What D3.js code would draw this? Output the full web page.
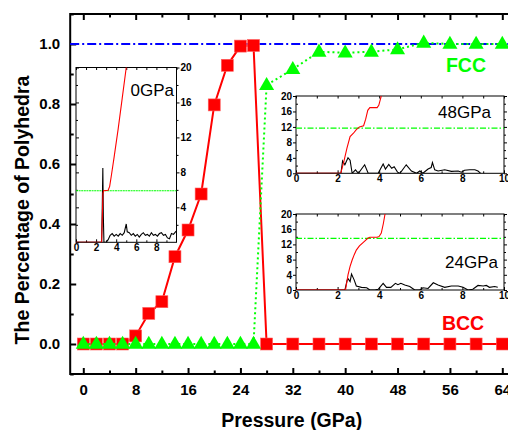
<!DOCTYPE html>
<html>
<head>
<meta charset="utf-8">
<script src="https://cdn.jsdelivr.net/npm/d3@7"></script>
<style>
  html, body { margin: 0; padding: 0; background: #fff; }
  svg { display: block; font-family: "Liberation Sans", Arial, sans-serif; }
</style>
</head>
<body>
<svg id="chart" width="508" height="430"></svg>
<script>
// Fraction of BCC / FCC polyhedra versus pressure
const pressureBCC = [0, 2, 4, 6, 8, 10, 12, 14, 16, 18, 20, 22, 24, 26, 28, 32, 36, 40, 44, 48, 52, 56, 60, 64];
const fractionBCC = [0, 0, 0, 0, 0.027, 0.102, 0.141, 0.291, 0.38, 0.5, 0.797, 0.929, 0.993, 0.995, 0, 0, 0, 0, 0, 0, 0, 0, 0, 0];
const pressureFCC = [0, 2, 4, 6, 8, 10, 12, 14, 16, 18, 20, 22, 24, 26, 28, 32, 36, 40, 44, 48, 52, 56, 60, 64];
const fractionFCC = [0, 0, 0, 0, 0, 0, 0, 0, 0, 0, 0, 0, 0, 0, 0.863, 0.916, 0.974, 0.971, 0.974, 0.982, 1.004, 1.0, 1.0, 1.0];
const referenceLevel = 1.0;
const xTicks = [0, 8, 16, 24, 32, 40, 48, 56, 64];
const yTicks = [0, 0.2, 0.4, 0.6, 0.8, 1.0];

// Inset at 0 GPa: g(r) (black), running coordination N(r) (red), coordination level (green)
const r0g = [0, 2.55, 2.6, 2.67, 2.72, 2.78, 3.0, 3.2, 3.4, 3.6, 3.8, 4.0, 4.2, 4.4, 4.6, 4.8, 5.0, 5.1, 5.3, 5.5, 5.7, 5.9, 6.1, 6.3, 6.5, 6.7, 6.9, 7.1, 7.3, 7.5, 7.7, 7.9, 8.1, 8.3, 8.5, 8.7, 8.9, 9.1, 9.3, 9.5, 9.7, 9.9, 10];
const g0 = [0, 0, 3, 8.5, 3, 0, 0, 0.3, 0.8, 1.0, 0.7, 0.9, 0.7, 1.0, 0.8, 1.1, 2.1, 1.2, 1.1, 0.8, 1.0, 0.7, 0.9, 0.6, 0.9, 1.1, 0.8, 0.9, 0.7, 1.1, 0.8, 0.9, 0.7, 1.0, 1.1, 0.8, 0.9, 0.5, 0.4, 1.0, 0.9, 1.2, 1.3];
const r0n = [0, 2.55, 2.62, 2.68, 2.75, 3.2, 3.35, 3.5, 3.8, 4.2, 4.6, 5.0];
const n0 = [0, 0, 3, 5.6, 5.9, 5.95, 6.4, 7.5, 9.8, 13, 16.5, 20];
const cn0 = 5.9;

// Inset at 48 GPa
const r48g = [0, 2.16, 2.24, 2.35, 2.5, 2.6, 2.7, 2.86, 3.0, 3.3, 3.47, 3.95, 4.19, 4.3, 4.46, 4.6, 4.72, 4.88, 5.0, 5.3, 5.55, 5.8, 5.95, 6.1, 6.35, 6.5, 6.56, 6.67, 6.83, 7.15, 7.47, 7.8, 7.95, 8.1, 8.35, 8.6, 8.75, 8.88];
const g48 = [0, 0, 3.2, 2.2, 4.0, 3.4, 0, 0.9, 0, 2.2, 0, 0, 2.4, 1.1, 2.3, 1.3, 1.7, 0.3, 0, 2.2, 0.6, 0, 0.6, 0, 1.1, 1.5, 2.8, 0.9, 0.6, 0.9, 0.5, 0.6, 0.3, 0.8, 0.9, 0.9, 0.6, 0];
const r48n = [0, 2.15, 2.3, 2.45, 2.6, 2.75, 2.9, 3.05, 3.25, 3.35, 3.45, 3.55, 3.9, 3.98, 4.05, 4.1];
const n48 = [0, 0, 3, 6.5, 9.5, 10.3, 11.3, 12, 12.3, 14, 16.3, 17, 17, 17.6, 19, 20];
const cn48 = 11.7;

// Inset at 24 GPa
const r24g = [0, 2.35, 2.46, 2.51, 2.6, 2.67, 2.8, 2.9, 3.15, 3.4, 3.55, 3.8, 3.95, 4.19, 4.35, 4.56, 4.78, 4.9, 5.04, 5.23, 5.47, 5.71, 5.95, 6.1, 6.35, 6.6, 6.83, 7.15, 7.47, 7.8, 8.03, 8.27, 8.5, 8.75, 9.0, 9.15, 9.3, 9.55, 9.7];
const g24 = [0, 0, 2.6, 2.9, 2.2, 4.2, 2.6, 1.05, 0.7, 0.6, 0, 0, 0.2, 1.75, 0.7, 0.7, 1.75, 1.4, 1.75, 1.3, 0.9, 0, 0, 0.6, 0.4, 1.9, 1.3, 0.7, 1.05, 1.05, 0.7, 0, 0.2, 1.2, 1.05, 1.2, 0.7, 0.9, 0.7];
const r24n = [0, 2.38, 2.5, 2.6, 2.7, 2.8, 2.9, 3.05, 3.25, 3.45, 3.55, 3.9, 4.0, 4.1, 4.2, 4.28];
const n24 = [0, 0, 4, 6.2, 7.9, 9.3, 10.5, 11.6, 12.6, 13.6, 13.9, 13.9, 14.1, 15, 17.5, 20];
const cn24 = 13.6;

const RED = "#ff0000", GREEN = "#00ff00", BLUE = "#0000ff";
const svg = d3.select("#chart");

// ---------- main panel ----------
const x = d3.scaleLinear().domain([-2, 66]).range([70.2, 515.4]);
const y = d3.scaleLinear().domain([-0.1, 1.1]).range([374, 14]);
const [xl, xr] = x.range();
const [yb, yt] = y.range();

const main = svg.append("g");

function tickAxis(axis) {
  return g => { g.call(axis); g.select(".domain").remove(); g.selectAll("line").attr("stroke", "#000").attr("stroke-width", 2); };
}
const boldLabels = g => g.selectAll("text").attr("font-size", 15).attr("font-weight", "bold")
  .attr("font-family", "Liberation Sans, Arial, sans-serif").attr("fill", "#000");

// major / minor ticks, all pointing into the plot
main.append("g").attr("transform", `translate(0,${yb})`)
  .call(tickAxis(d3.axisBottom(x).tickValues(xTicks).tickSizeInner(-6).tickSizeOuter(0).tickPadding(10)))
  .call(boldLabels);
main.append("g").attr("transform", `translate(0,${yb})`)
  .call(tickAxis(d3.axisBottom(x).tickValues(d3.range(4, 65, 8)).tickSizeInner(-3.5).tickSizeOuter(0).tickFormat("")));
main.append("g").attr("transform", `translate(0,${yt})`)
  .call(tickAxis(d3.axisTop(x).tickValues(xTicks).tickSizeInner(-6).tickSizeOuter(0).tickFormat("")));
main.append("g").attr("transform", `translate(0,${yt})`)
  .call(tickAxis(d3.axisTop(x).tickValues(d3.range(4, 65, 8)).tickSizeInner(-3.5).tickSizeOuter(0).tickFormat("")));
main.append("g").attr("transform", `translate(${xl},0)`)
  .call(tickAxis(d3.axisLeft(y).tickValues(yTicks).tickSizeInner(-6).tickSizeOuter(0).tickPadding(10).tickFormat(d3.format(".1f"))))
  .call(boldLabels);
main.append("g").attr("transform", `translate(${xl},0)`)
  .call(tickAxis(d3.axisLeft(y).tickValues([-0.1, 0.1, 0.3, 0.5, 0.7, 0.9, 1.1]).tickSizeInner(-3.5).tickSizeOuter(0).tickFormat("")));

main.append("rect").attr("x", xl).attr("y", yt).attr("width", xr - xl).attr("height", yb - yt)
  .attr("fill", "none").attr("stroke", "#000").attr("stroke-width", 2);

// reference level at 1.0
main.append("line").attr("x1", xl).attr("x2", xr).attr("y1", y(referenceLevel)).attr("y2", y(referenceLevel))
  .attr("stroke", BLUE).attr("stroke-width", 2).attr("stroke-dasharray", "9,3,2,3");

const lineP = d3.line().x(d => x(d[0])).y(d => y(d[1]));

// BCC series
const bcc = d3.zip(pressureBCC, fractionBCC);
main.append("path").attr("d", lineP(bcc)).attr("fill", "none").attr("stroke", RED).attr("stroke-width", 2);
main.selectAll(".sq").data(bcc).join("rect")
  .attr("x", d => x(d[0]) - 6).attr("y", d => y(d[1]) - 6).attr("width", 12).attr("height", 12)
  .attr("fill", RED).attr("stroke", "#ff6060").attr("stroke-width", 0.6);

// FCC series
const fcc = d3.zip(pressureFCC, fractionFCC);
main.append("path").attr("d", lineP(fcc)).attr("fill", "none").attr("stroke", GREEN).attr("stroke-width", 2).attr("stroke-dasharray", "2,3");
const tri = d3.symbol().type(d3.symbolTriangle).size(98);
main.selectAll(".tri").data(fcc).join("path")
  .attr("d", tri).attr("transform", d => `translate(${x(d[0])},${y(d[1]) + 0.5})`).attr("fill", GREEN);

// series labels
main.append("text").attr("x", 466).attr("y", 72).attr("text-anchor", "middle")
  .attr("font-size", 19.5).attr("font-weight", "bold").attr("fill", GREEN).text("FCC");
main.append("text").attr("x", 463).attr("y", 330).attr("text-anchor", "middle")
  .attr("font-size", 19.5).attr("font-weight", "bold").attr("fill", RED).text("BCC");

// axis titles
svg.append("text").attr("x", 291.7).attr("y", 427).attr("text-anchor", "middle")
  .attr("font-size", 19.5).attr("font-weight", "bold").text("Pressure (GPa)");
svg.append("text").attr("transform", "translate(22,210) rotate(-90)").attr("dy", "0.35em").attr("text-anchor", "middle")
  .attr("font-size", 19.5).attr("font-weight", "bold").text("The Percentage of Polyhedra");

// ---------- insets ----------
function inset(o) {
  const g = svg.append("g");
  const ix = d3.scaleLinear().domain([0, 10]).range([o.x0, o.x1]);
  const iy = d3.scaleLinear().domain([0, 20]).range([o.y1, o.y0]);
  const id = "clip" + o.name;
  g.append("clipPath").attr("id", id).append("rect")
    .attr("x", o.x0).attr("y", o.y0 - 1).attr("width", o.x1 - o.x0).attr("height", o.y1 - o.y0 + 1);
  g.append("rect").attr("x", o.x0).attr("y", o.y0).attr("width", o.x1 - o.x0).attr("height", o.y1 - o.y0).attr("fill", "#fff");

  const thin = sel => { sel.select(".domain").remove(); sel.selectAll("line").attr("stroke", "#000").attr("stroke-width", 1); };
  const lab = sel => sel.selectAll("text").attr("font-size", 10).attr("font-weight", "bold").attr("font-family", "Liberation Sans, Arial, sans-serif").attr("fill", "#000");

  // bottom
  g.append("g").attr("transform", `translate(0,${o.y1})`)
    .call(d3.axisBottom(ix).tickValues(o.xLabels).tickSizeInner(-3).tickSizeOuter(0).tickPadding(2)).call(thin).call(lab);
  g.append("g").attr("transform", `translate(0,${o.y1})`)
    .call(d3.axisBottom(ix).tickValues(d3.range(1, 10, 2)).tickSizeInner(-2).tickSizeOuter(0).tickFormat("")).call(thin);
  // top
  g.append("g").attr("transform", `translate(0,${o.y0})`)
    .call(d3.axisTop(ix).tickValues(d3.range(0, 11, 1)).tickSizeInner(-2.5).tickSizeOuter(0).tickFormat("")).call(thin);
  // left
  const left = d3.axisLeft(iy).tickValues([0, 4, 8, 12, 16, 20]).tickSizeOuter(0);
  if (o.leftLabels) left.tickSizeInner(3).tickPadding(1); else left.tickSizeInner(-3).tickFormat("");
  g.append("g").attr("transform", `translate(${o.x0},0)`).call(left).call(thin).call(lab);
  g.append("g").attr("transform", `translate(${o.x0},0)`)
    .call(d3.axisLeft(iy).tickValues([2, 6, 10, 14, 18]).tickSizeInner(-2).tickSizeOuter(0).tickFormat("")).call(thin);
  // right
  const right = d3.axisRight(iy).tickValues(o.rightLabels ? [4, 8, 12, 16, 20] : [0, 4, 8, 12, 16, 20]).tickSizeOuter(0).tickSizeInner(3).tickPadding(1);
  if (!o.rightLabels) right.tickFormat("");
  g.append("g").attr("transform", `translate(${o.x1},0)`).call(right).call(thin).call(lab);
  g.append("g").attr("transform", `translate(${o.x1},0)`)
    .call(d3.axisRight(iy).tickValues([2, 6, 10, 14, 18]).tickSizeInner(2).tickSizeOuter(0).tickFormat("")).call(thin);

  g.append("rect").attr("x", o.x0).attr("y", o.y0).attr("width", o.x1 - o.x0).attr("height", o.y1 - o.y0)
    .attr("fill", "none").attr("stroke", "#000").attr("stroke-width", 1);

  const ln = d3.line().x(d => ix(d[0])).y(d => iy(d[1]));
  const plot = g.append("g").attr("clip-path", `url(#${id})`);
  plot.append("line").attr("x1", o.x0).attr("x2", o.x1).attr("y1", iy(o.cn)).attr("y2", iy(o.cn))
    .attr("stroke", GREEN).attr("stroke-width", 1.2).attr("stroke-dasharray", o.cnDash);
  plot.append("path").attr("d", ln(d3.zip(o.rg, o.g))).attr("fill", "none").attr("stroke", "#000").attr("stroke-width", 1.1);
  plot.append("path").attr("d", ln(d3.zip(o.rn, o.n))).attr("fill", "none").attr("stroke", RED).attr("stroke-width", 1.1);

  g.append("text").attr("x", o.lx).attr("y", o.ly).attr("text-anchor", o.anchor)
    .attr("font-size", 17).attr("fill", "#000").text(o.name);
}

inset({ name: "0GPa", x0: 76, x1: 176.5, y0: 67.5, y1: 242.3, xLabels: [0, 2, 4, 6, 8], leftLabels: false, rightLabels: true,
  rg: r0g, g: g0, rn: r0n, n: n0, cn: cn0, cnDash: "2,0.6", lx: 174, ly: 96, anchor: "end" });
inset({ name: "48GPa", x0: 296, x1: 504, y0: 96, y1: 173.3, xLabels: [0, 2, 4, 6, 8, 10], leftLabels: true, rightLabels: false,
  rg: r48g, g: g48, rn: r48n, n: n48, cn: cn48, cnDash: "6,2,1.5,2", lx: 438, ly: 118, anchor: "start" });
inset({ name: "24GPa", x0: 296, x1: 504, y0: 214, y1: 290, xLabels: [0, 2, 4, 6, 8, 10], leftLabels: true, rightLabels: false,
  rg: r24g, g: g24, rn: r24n, n: n24, cn: cn24, cnDash: "6,2,1.5,2", lx: 445, ly: 268, anchor: "start" });
</script>
</body>
</html>
